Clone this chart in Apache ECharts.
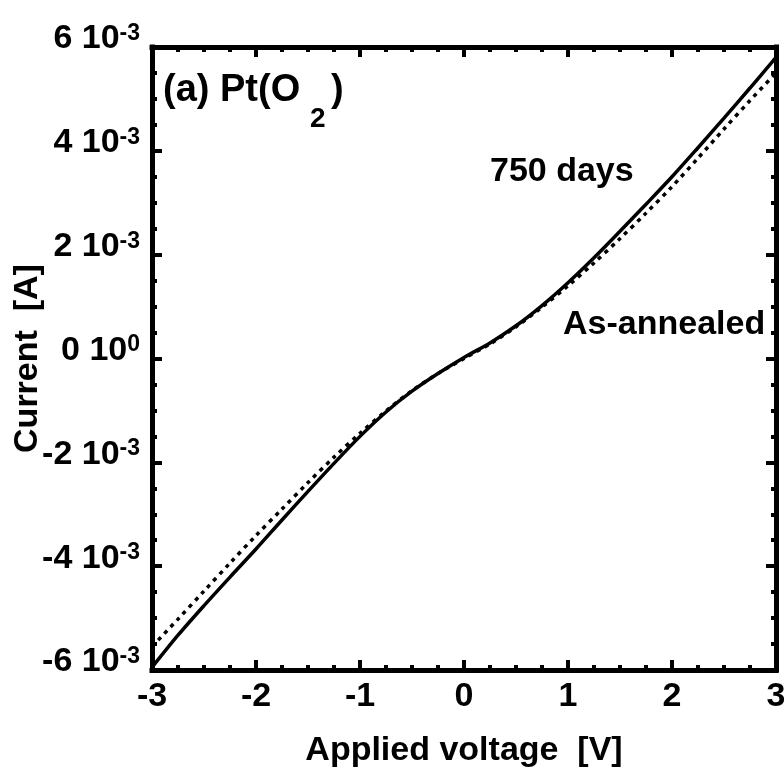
<!DOCTYPE html>
<html>
<head>
<meta charset="utf-8">
<script src="https://cdn.jsdelivr.net/npm/echarts@6/dist/echarts.min.js"></script>
<style>
  html, body { margin: 0; background: #fff; }
  #chart { width: 784px; height: 769px; }
</style>
</head>
<body>
<div id="chart"></div>
<script>
// applied voltage [V]
const voltage = [-3, -2.75, -2.5, -2.25, -2, -1.75, -1.5, -1.25, -1, -0.75, -0.5, -0.25, 0,
                 0.25, 0.5, 0.75, 1, 1.25, 1.5, 1.75, 2, 2.25, 2.5, 2.75, 3];
// current [1e-3 A]
const days750 = [-5.95, -5.33, -4.76, -4.21, -3.67, -3.11, -2.56, -2.02, -1.50, -1.03, -0.63, -0.29, 0.02,
                 0.30, 0.63, 1.02, 1.46, 1.94, 2.45, 2.97, 3.50, 4.06, 4.63, 5.21, 5.80];
const asAnnealed = [-5.55, -5.02, -4.48, -3.94, -3.41, -2.90, -2.39, -1.90, -1.44, -1.01, -0.62, -0.29, 0.0,
                    0.28, 0.61, 0.99, 1.40, 1.84, 2.31, 2.80, 3.31, 3.86, 4.42, 4.97, 5.50];

const yTickMantissa = ['-6', '-4', '-2', '0', '2', '4', '6'];
const yTickExponent = ['-3', '-3', '-3', '0', '-3', '-3', '-3'];
const xTicks = ['-3', '-2', '-1', '0', '1', '2', '3'];

const font = '"Liberation Sans", Arial, Helvetica, sans-serif';

const chart = echarts.init(document.getElementById('chart'));

const frame = {
  axisLine: { onZero: false, lineStyle: { color: '#000', width: 5, cap: 'square' } },
  axisTick: { inside: true, length: 10, lineStyle: { color: '#000', width: 4 } },
  minorTick: { show: true, splitNumber: 4, length: 5, lineStyle: { color: '#000', width: 4 } },
  splitLine: { show: false }
};

chart.setOption({
  animation: false,
  backgroundColor: '#fff',
  grid: { left: 152, top: 47, width: 624, height: 623, outerBoundsMode: 'none', containLabel: false },
  xAxis: [
    Object.assign({
      type: 'value', min: -3, max: 3, interval: 1, position: 'bottom',
      axisLabel: {
        color: '#000', fontSize: 34, fontWeight: 'bold', fontFamily: font, margin: 10,
        formatter: (v, i) => xTicks[i]
      },
      name: 'Applied voltage  [V]', nameLocation: 'middle', nameGap: 64, nameMoveOverlap: false,
      nameTextStyle: { color: '#000', fontSize: 34, fontWeight: 'bold', fontFamily: font }
    }, frame),
    Object.assign({
      type: 'value', min: -3, max: 3, interval: 1, position: 'top',
      axisLabel: { show: false }
    }, frame)
  ],
  yAxis: [
    Object.assign({
      type: 'value', min: -6, max: 6, interval: 2, position: 'left',
      axisLabel: {
        margin: 12,
        padding: [0, 0, 16, 0],
        formatter: (v, i) => '{m|' + yTickMantissa[i] + ' 10}{e|' + yTickExponent[i] + '}',
        rich: {
          m: { color: '#000', fontSize: 34, fontWeight: 'bold', fontFamily: font, lineHeight: 34 },
          e: { color: '#000', fontSize: 23, fontWeight: 'bold', fontFamily: font, lineHeight: 14, verticalAlign: 'top' }
        }
      },
      name: 'Current  [A]', nameLocation: 'middle', nameGap: 107, nameMoveOverlap: false,
      nameTextStyle: { color: '#000', fontSize: 34, fontWeight: 'bold', fontFamily: font }
    }, frame),
    Object.assign({
      type: 'value', min: -6, max: 6, interval: 2, position: 'right',
      axisLabel: { show: false }
    }, frame)
  ],
  graphic: [
    {
      type: 'group', left: 163, top: 72,
      children: [
        { type: 'text', x: 0, y: 0, style: { text: '(a) Pt(O', fill: '#000', font: 'bold 38px ' + font } },
        { type: 'text', x: 147, y: 33, style: { text: '2', fill: '#000', font: 'bold 28px ' + font } },
        { type: 'text', x: 168, y: 0, style: { text: ')', fill: '#000', font: 'bold 38px ' + font } }
      ]
    },
    {
      type: 'text', left: 490, top: 155,
      style: { text: '750 days', fill: '#000', font: 'bold 34px ' + font }
    },
    {
      type: 'text', left: 563, top: 308,
      style: { text: 'As-annealed', fill: '#000', font: 'bold 34px ' + font }
    }
  ],
  series: [
    {
      name: '750 days', type: 'line', showSymbol: false, smooth: 0.3,
      data: voltage.map((v, i) => [v, days750[i]]),
      lineStyle: { color: '#000', width: 3.5 }
    },
    {
      name: 'As-annealed', type: 'line', showSymbol: false, smooth: 0.3,
      data: voltage.map((v, i) => [v, asAnnealed[i]]),
      lineStyle: { color: '#000', width: 3.5, type: [4, 5] }
    }
  ]
});
</script>
</body>
</html>
